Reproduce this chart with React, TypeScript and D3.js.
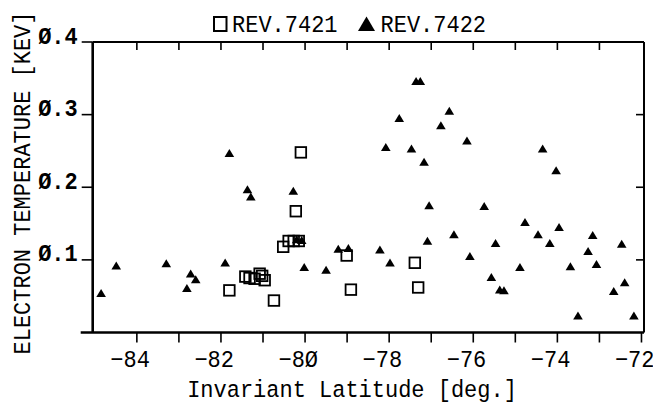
import React from "react";
import * as d3 from "d3";

const rev7421Lat = [-80.10, -80.22, -80.52, -80.39, -80.27, -80.15, -79.01, -81.80, -80.74, -81.42, -81.32, -81.20, -81.08, -81.02, -80.96, -78.91, -77.39, -77.31];
const rev7421Te = [0.248, 0.167, 0.118, 0.126, 0.126, 0.126, 0.106, 0.058, 0.044, 0.077, 0.075, 0.074, 0.081, 0.078, 0.072, 0.059, 0.096, 0.062];

const rev7422Lat = [-84.85, -84.49, -83.30, -82.72, -82.60, -82.81, -81.90, -81.80, -81.37, -81.29, -80.28, -80.20, -80.08, -80.02, -79.50, -79.21, -78.97, -78.22, -77.98, -77.09, -76.46, -77.05, -75.74, -76.08, -75.47, -75.57, -75.37, -75.27, -74.89, -74.77, -74.46, -74.18, -73.96, -73.69, -73.51, -73.27, -73.16, -73.07, -72.66, -72.47, -72.40, -72.18, -77.36, -77.26, -76.57, -77.76, -76.77, -76.15, -78.08, -77.47, -77.17, -74.35, -74.03];
const rev7422Te = [0.054, 0.092, 0.095, 0.081, 0.073, 0.061, 0.096, 0.247, 0.197, 0.187, 0.195, 0.128, 0.127, 0.090, 0.086, 0.115, 0.116, 0.114, 0.096, 0.126, 0.135, 0.175, 0.174, 0.105, 0.123, 0.076, 0.059, 0.058, 0.090, 0.152, 0.135, 0.123, 0.145, 0.091, 0.023, 0.112, 0.134, 0.094, 0.057, 0.122, 0.069, 0.023, 0.346, 0.346, 0.305, 0.295, 0.285, 0.264, 0.255, 0.253, 0.235, 0.253, 0.223];

const xTickValues = [-84, -82, -80, -78, -76, -74, -72];
const xTickLabels = ["−84", "−82", "−8Ø", "−78", "−76", "−74", "−72"];
const xMinorTicks = [-84, -83, -82, -81, -80, -79, -78, -77, -76, -75, -74, -73, -72];
const topTicks = [-84, -83, -82, -81, -80, -79, -78, -77, -76, -75, -74, -73];
const yTickValues = [0.1, 0.2, 0.3, 0.4];
const yTickLabels = ["Ø.1", "Ø.2", "Ø.3", "Ø.4"];
const rightTicks = [0.1, 0.2, 0.3];
const legendLabels = ["REV.7421", "REV.7422"];
const xTitle = "Invariant Latitude [deg.]";
const yTitle = "ELECTRON TEMPERATURE [KEV]";

const W = 653;
const H = 405;
const FONT = "'Liberation Mono', 'DejaVu Sans Mono', monospace";
const STRETCH = 1.08;

function T(props: { x: number; y: number; rotate?: number; anchor?: string; weight?: string; children: React.ReactNode }) {
  const { x, y, rotate = 0, anchor = "start", weight = "normal", children } = props;
  return (
    <text
      transform={`translate(${x},${y}) rotate(${rotate}) scale(1,${STRETCH})`}
      textAnchor={anchor}
      fontSize={22}
      fontWeight={weight}
      fill="#000"
    >
      {children}
    </text>
  );
}

export default function App() {
  const x = d3.scaleLinear().domain([-85.05, -71.94]).range([92.7, 644]);
  const y = d3.scaleLinear().domain([0, 0.4]).range([332.5, 42]);
  const x0 = x.range()[0];
  const x1 = x.range()[1];
  const y0 = y.range()[0];
  const y1 = y.range()[1];

  const tri = (cx: number, cy: number) =>
    `M${cx},${cy - 4.2}L${cx + 4.8},${cy + 3.8}L${cx - 4.8},${cy + 3.8}Z`;

  return (
    <svg
      width={W}
      height={H}
      style={{ position: "absolute", left: 0, top: 0, background: "#fff" }}
      fontFamily={FONT}
    >
      <rect width={W} height={H} fill="#fff" />
      {/* frame */}
      <line x1={x0} x2={x1} y1={y1} y2={y1} stroke="#000" strokeWidth={2} />
      <line x1={x1} x2={x1} y1={y1} y2={y0} stroke="#000" strokeWidth={2} />
      <line x1={x0 - 12} x2={x1} y1={y0} y2={y0} stroke="#000" strokeWidth={2.4} />
      <line x1={x0} x2={x0} y1={y1} y2={y0} stroke="#000" strokeWidth={2.6} />

      {/* top ticks (inward) */}
      {topTicks.map((t) => (
        <line key={"tt" + t} x1={x(t)} x2={x(t)} y1={y1} y2={y1 + 8} stroke="#000" strokeWidth={1.6} />
      ))}
      {/* bottom ticks (outward) */}
      {xMinorTicks.map((t) => (
        <line key={"bt" + t} x1={x(t)} x2={x(t)} y1={y0} y2={y0 + 10} stroke="#000" strokeWidth={1.6} />
      ))}
      {/* left ticks */}
      {yTickValues.map((t) => (
        <line key={"lt" + t} x1={x0 - 11} x2={x0} y1={y(t)} y2={y(t)} stroke="#000" strokeWidth={1.6} />
      ))}
      {/* right ticks (inward) */}
      {rightTicks.map((t) => (
        <line key={"rt" + t} x1={x1 - 8} x2={x1} y1={y(t)} y2={y(t)} stroke="#000" strokeWidth={1.6} />
      ))}

      {/* y tick labels */}
      {yTickValues.map((t, i) => (
        <T key={"yl" + t} x={x0 - 15} y={y(t) + 1.5} anchor="end" weight="bold">
          {yTickLabels[i]}
        </T>
      ))}
      {/* x tick labels */}
      {xTickValues.map((t, i) => (
        <T key={"xl" + t} x={x(t) + 13} y={y0 + 34} anchor="end">
          {xTickLabels[i]}
        </T>
      ))}

      {/* axis titles */}
      <T x={352} y={397} anchor="middle">{xTitle}</T>
      <T x={30} y={183} rotate={-90} anchor="middle">{yTitle}</T>

      {/* legend */}
      <rect x={214} y={17} width={12.5} height={14} fill="none" stroke="#000" strokeWidth={2} />
      <T x={232} y={31.5}>{legendLabels[0]}</T>
      <path d="M366.5,16.5L375,31L358,31Z" fill="#000" />
      <T x={380.5} y={31.5}>{legendLabels[1]}</T>

      {/* data: REV.7422 triangles */}
      {rev7422Lat.map((lat, i) => (
        <path key={"t" + i} d={tri(x(lat), y(rev7422Te[i]))} fill="#000" />
      ))}
      {/* data: REV.7421 squares */}
      {rev7421Lat.map((lat, i) => (
        <rect
          key={"s" + i}
          x={x(lat) - 5.3}
          y={y(rev7421Te[i]) - 5.3}
          width={10.6}
          height={10.6}
          fill="none"
          stroke="#000"
          strokeWidth={1.8}
        />
      ))}
    </svg>
  );
}
